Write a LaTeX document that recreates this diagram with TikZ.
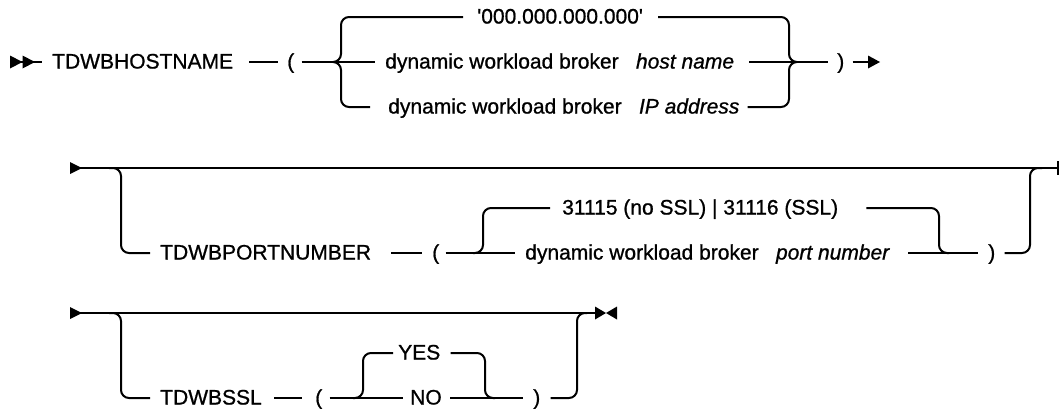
\documentclass[tikz,border=0pt]{standalone}
\usepackage{fontspec}
\setmainfont{Liberation Sans}[Ligatures=TeXOff, FakeBold=0.9]
\usetikzlibrary{calc}
\begin{document}
\begin{tikzpicture}[x=0.75pt,y=-0.75pt,
  rail/.style={line width=1.5pt},
  rnd/.style={rail, rounded corners=6pt},
  lbl/.style={inner sep=0pt, anchor=west, text height=12pt, text depth=2.2pt,
              font=\fontsize{15.75}{19}\selectfont}]
\useasboundingbox (0,0) rectangle (1060,408);

% ---------- TDWBHOSTNAME ----------
\node[lbl] (hkw) at (52,62)  {TDWBHOSTNAME};
\node[lbl] (hlp) at (287,62) {(};
\node[lbl] (ha)  at (477,17) {'000.000.000.000'};
\node[lbl] (hb)  at (385,62) {dynamic workload broker\hspace{13pt}\textit{host name}};
\node[lbl] (hc)  at (388,107) {dynamic workload broker\hspace{13pt}\textit{IP address}};
\node[lbl] (hrp) at (837,62) {)};
\coordinate (hstart) at (10,62);
\coordinate (hL) at (341,62);
\coordinate (hR) at (789,62);
\coordinate (hend) at (880,62);

\fill (hstart) ++(0,-6.5) -- ++(12.5,6.5) -- ++(-12.5,6.5) -- cycle;
\fill ($(hstart)+(12.5,0)$) ++(0,-6.5) -- ++(12.5,6.5) -- ++(-12.5,6.5) -- cycle;
\draw[rail] (hstart) -- ($(hkw.west)+(-10,0)$);
\draw[rail] ($(hkw.east)+(16,0)$) -- ($(hlp.west)+(-9,0)$);
\draw[rail] ($(hlp.east)+(7,0)$) -- ($(hb.west)+(-10,0)$);
\draw[rnd] ($(ha.west)+(-14,0)$) -| (hL) -- ($(hL)+(-8,0)$);
\draw[rnd] ($(hc.west)+(-18,0)$) -| (hL) -- ($(hL)+(-8,0)$);
\draw[rnd] ($(ha.east)+(15,0)$) -| (hR) -- ($(hR)+(8,0)$);
\draw[rnd] ($(hc.east)+(8,0)$) -| (hR) -- ($(hR)+(8,0)$);
\draw[rail] ($(hb.east)+(15,0)$) -- ($(hrp.west)+(-9,0)$);
\draw[rail] ($(hrp.east)+(8,0)$) -- ($(hend)+(-10,0)$);
\fill (hend) -- ++(-12,-6.5) -- ++(0,13) -- cycle;

% ---------- TDWBPORTNUMBER ----------
\node[lbl] (pkw) at (160,253) {TDWBPORTNUMBER};
\node[lbl] (plp) at (432,253) {(};
\node[lbl] (pa)  at (562,208) {31115 (no SSL) | 31116 (SSL)};
\node[lbl] (pb)  at (525,253) {dynamic workload broker\hspace{13pt}\textit{port number}};
\node[lbl] (prp) at (988,253) {)};
\coordinate (pstart) at (70,168);
\coordinate (pend) at (1058,168);
\coordinate (pdn) at (121,168);
\coordinate (pL) at (483,253);
\coordinate (pR) at (939,253);
\coordinate (pup) at (1030,168);

\fill (pstart) ++(0,-6) -- ++(12,6) -- ++(-12,6) -- cycle;
\draw[rail] (pstart) -- (pend);
\draw[rail] ($(pend)+(0,-7)$) -- ($(pend)+(0,7)$);
\draw[rnd] ($(pdn)+(-12,0)$) -- (pdn) |- ($(pkw.west)+(-10,0)$);
\draw[rail] ($(pkw.east)+(20,0)$) -- ($(plp.west)+(-10,0)$);
\draw[rail] ($(plp.east)+(6,0)$) -- ($(pb.west)+(-10,0)$);
\draw[rnd] ($(pL)+(-10,0)$) -- (pL) |- ($(pa.west)+(-12,0)$);
\draw[rnd] ($(pa.east)+(28,0)$) -| (pR) -- ($(pR)+(10,0)$);
\draw[rail] ($(pb.east)+(18,0)$) -- ($(prp.west)+(-10,0)$);
\draw[rnd] ($(prp.east)+(9,0)$) -| (pup) -- ($(pup)+(12,0)$);

% ---------- TDWBSSL ----------
\node[lbl] (skw) at (160,398) {TDWBSSL};
\node[lbl] (slp) at (315,398) {(};
\node[lbl] (sa)  at (398,353) {YES};
\node[lbl] (sb)  at (410,398) {NO};
\node[lbl] (srp) at (533,398) {)};
\coordinate (sstart) at (70,313);
\coordinate (send) at (595,313);
\coordinate (sdn) at (121,313);
\coordinate (sL) at (363,398);
\coordinate (sR) at (485,398);
\coordinate (sup) at (577,313);

\fill (sstart) ++(0,-6) -- ++(12,6) -- ++(-12,6) -- cycle;
\draw[rail] (sstart) -- (send);
\fill (send) ++(0,-6.5) -- ++(11,6.5) -- ++(-11,6.5) -- cycle;
\fill ($(send)+(22,0)$) ++(0,-6.5) -- ++(-11,6.5) -- ++(11,6.5) -- cycle;
\draw[rnd] ($(sdn)+(-12,0)$) -- (sdn) |- ($(skw.west)+(-10,0)$);
\draw[rail] ($(skw.east)+(12,0)$) -- ($(slp.west)+(-13,0)$);
\draw[rail] ($(slp.east)+(7,0)$) -- ($(sb.west)+(-7,0)$);
\draw[rnd] ($(sL)+(-10,0)$) -- (sL) |- ($(sa.west)+(-5,0)$);
\draw[rnd] ($(sa.east)+(10,0)$) -| (sR) -- ($(sR)+(10,0)$);
\draw[rail] ($(sb.east)+(8,0)$) -- ($(srp.west)+(-10,0)$);
\draw[rnd] ($(srp.east)+(10,0)$) -| (sup) -- ($(sup)+(10,0)$);
\end{tikzpicture}
\end{document}
